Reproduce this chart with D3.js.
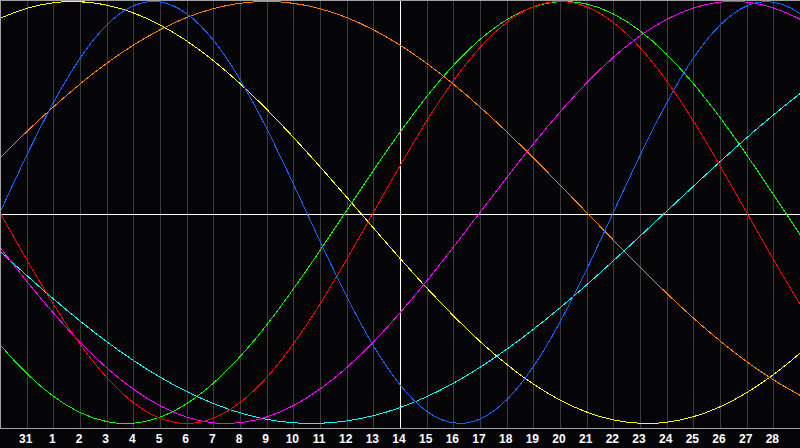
<!DOCTYPE html>
<html>
<head>
<meta charset="utf-8">
<script src="https://cdn.jsdelivr.net/npm/d3@7"></script>
<style>
  html, body { margin: 0; padding: 0; background: #050507; }
  svg { display: block; }
</style>
</head>
<body>
<svg id="chart" width="800" height="448"></svg>
<script>
// Day offsets (days from the left edge of the plot), sampled every 2 days
const days = [-4, -2, 0, 2, 4, 6, 8, 10, 12, 14, 16, 18, 20, 22, 24, 26, 28, 30, 32, 34];

// Day-of-month tick labels (one per vertical grid line)
const dayLabels = ["31","1","2","3","4","5","6","7","8","9","10","11","12","13","14",
                   "15","16","17","18","19","20","21","22","23","24","25","26","27","28"];
const todayLabel = "14";

// Rhythm values (-1 .. 1) at the days above
const physical     = [-0.888,-0.520, 0.000, 0.520, 0.888, 0.998, 0.817, 0.398,-0.136,-0.631,-0.942,-0.979,-0.731,-0.270, 0.270, 0.731, 0.979, 0.942, 0.631, 0.136];
const emotional    = [ 0.782, 0.434, 0.000,-0.434,-0.782,-0.975,-0.975,-0.782,-0.434, 0.000, 0.434, 0.782, 0.975, 0.975, 0.782, 0.434, 0.000,-0.434,-0.782,-0.975];
const intellectual = [ 0.086,-0.291,-0.626,-0.871,-0.991,-0.970,-0.809,-0.533,-0.180, 0.199, 0.549, 0.820, 0.974, 0.988, 0.861, 0.611, 0.273,-0.105,-0.467,-0.762];
const intuitive    = [ 0.476, 0.165,-0.165,-0.476,-0.736,-0.916,-0.997,-0.969,-0.837,-0.614,-0.325, 0.000, 0.325, 0.614, 0.837, 0.969, 0.997, 0.916, 0.736, 0.476];
const aesthetic    = [ 0.552, 0.769, 0.920, 0.994, 0.983, 0.889, 0.720, 0.489, 0.217,-0.073,-0.357,-0.611,-0.813,-0.946,-0.999,-0.968,-0.854,-0.667,-0.425,-0.146];
const awareness    = [-0.259, 0.000, 0.259, 0.500, 0.707, 0.866, 0.966, 1.000, 0.966, 0.866, 0.707, 0.500, 0.259, 0.000,-0.259,-0.500,-0.707,-0.866,-0.966,-1.000];
const spiritual    = [ 0.286, 0.053,-0.183,-0.409,-0.612,-0.780,-0.905,-0.980,-0.999,-0.963,-0.873,-0.734,-0.554,-0.343,-0.112, 0.124, 0.354, 0.564, 0.742, 0.879];

const seriesNames  = ["aesthetic","awareness","spiritual","intuitive","intellectual","emotional","physical"];
const seriesValues = [aesthetic, awareness, spiritual, intuitive, intellectual, emotional, physical];
const seriesColors = ["#ffff00","#ff8000","#00ffff","#ff00ff","#00ff00","#ff0000","#1464ff"];

const W = 800, H = 448;
const plotH = 428;
const svg = d3.select("#chart");

svg.append("rect").attr("x", 0).attr("y", 0).attr("width", W).attr("height", H).attr("fill", "#050507");

const x = d3.scaleLinear().domain([0, 30]).range([0, W]);
const y = d3.scaleLinear().domain([-1, 1]).range([423.5, 1.5]);

svg.append("defs").append("clipPath").attr("id", "plotclip")
  .append("rect").attr("x", 0).attr("y", 0).attr("width", W).attr("height", plotH);

// vertical grid lines
const gridIdx = d3.range(1, dayLabels.length + 1);
svg.append("g")
  .selectAll("line")
  .data(gridIdx)
  .join("line")
  .attr("x1", d => Math.round(x(d)) + 0.5)
  .attr("x2", d => Math.round(x(d)) + 0.5)
  .attr("y1", 0).attr("y2", plotH)
  .attr("stroke", d => dayLabels[d - 1] === todayLabel ? "#ffffff" : "#3c3c3c")
  .attr("stroke-width", 1)
  .attr("shape-rendering", "crispEdges");

// center (zero) line
svg.append("line")
  .attr("x1", 0).attr("x2", W)
  .attr("y1", Math.round(y(0)) + 1.5).attr("y2", Math.round(y(0)) + 1.5)
  .attr("stroke", "#ffffff").attr("stroke-width", 1)
  .attr("shape-rendering", "crispEdges");

// curves
const line = d3.line()
  .x((d, i) => x(days[i]))
  .y(d => y(d))
  .curve(d3.curveNatural);

svg.append("g").attr("clip-path", "url(#plotclip)")
  .selectAll("path")
  .data(seriesValues)
  .join("path")
  .attr("d", d => line(d))
  .attr("fill", "none")
  .attr("stroke", (d, i) => seriesColors[i])
  .attr("stroke-width", 1)
  .attr("shape-rendering", "crispEdges");

// plot border (top, left, bottom)
svg.append("rect")
  .attr("x", 0.5).attr("y", 0.5).attr("width", W + 2).attr("height", plotH - 0.5)
  .attr("fill", "none").attr("stroke", "#a0a0a0").attr("stroke-width", 1)
  .attr("shape-rendering", "crispEdges");

// day labels
svg.append("g")
  .selectAll("text")
  .data(gridIdx)
  .join("text")
  .attr("x", d => x(d) - 1)
  .attr("y", 443)
  .attr("text-anchor", "middle")
  .attr("fill", "#ffffff")
  .attr("font-family", "'Liberation Sans', Arial, sans-serif")
  .attr("font-weight", "bold")
  .attr("font-size", 12)
  .text(d => dayLabels[d - 1]);
</script>
</body>
</html>
